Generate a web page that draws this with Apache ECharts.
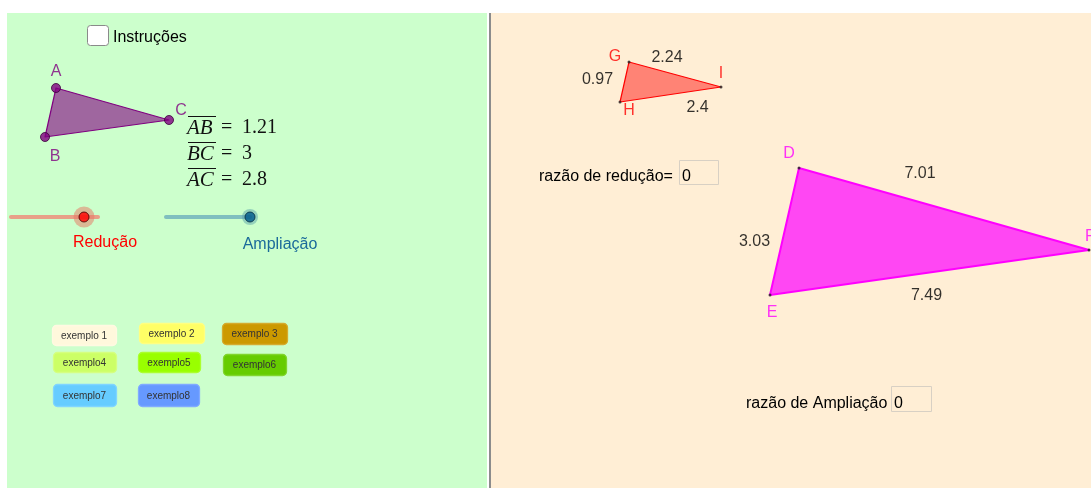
<!DOCTYPE html>
<html>
<head>
<meta charset="utf-8">
<script src="https://cdn.jsdelivr.net/npm/echarts@6/dist/echarts.min.js"></script>
<style>
  html, body { margin: 0; padding: 0; background: #fff; }
  #chart { width: 1091px; height: 488px; }
</style>
</head>
<body>
<div id="chart"></div>
<script>
// triangle vertices, screen coords of the geogebra view
const triABC = [[56, 88], [45, 137], [169, 120]];
const namesABC = ["A", "B", "C"];
const triGHI = [[629, 62], [620, 102], [721, 87]];
const namesGHI = ["G", "H", "I"];
const triDEF = [[799, 168], [770, 295], [1089, 250]];
const namesDEF = ["D", "E", "F"];

// side lengths (edge order: first-second, second-third, third-first)
const sidesGHI = ["0.97", "2.4", "2.24"];
const sidesDEF = ["3.03", "7.49", "7.01"];
const segNames = ["AB", "BC", "AC"];
const segValues = ["1.21", "3", "2.8"];

// sliders
const trackRed = [[11, 217], [98, 217]];
const knobRed = [84, 217];
const trackBlue = [[166, 217], [250, 217]];
const knobBlue = [250, 217];

// example buttons
const btnLabels = ["exemplo 1", "exemplo 2", "exemplo 3", "exemplo4", "exemplo5", "exemplo6", "exemplo7", "exemplo8"];
const btnColors = ["#fff8dc", "#ffff66", "#cc9900", "#ccff66", "#99ff00", "#66cc00", "#66ccff", "#6699ff"];

const chart = echarts.init(document.getElementById("chart"));

const SANS = "Liberation Sans, Arial, sans-serif";
const SERIF = "Liberation Serif, Times New Roman, serif";

const triSeries = (pts, fill, stroke, lw) => ({
  type: "custom",
  coordinateSystem: "cartesian2d",
  silent: true,
  data: [0],
  renderItem: (params, api) => ({
    type: "polygon",
    shape: { points: pts.map((p) => api.coord(p)) },
    style: { fill, stroke, lineWidth: lw, lineJoin: "round" },
  }),
  z: 2,
});

const vertexSeries = (pts, names, offsets, opts) => ({
  type: "scatter",
  silent: true,
  symbolSize: opts.size,
  itemStyle: { color: opts.color, borderColor: opts.border, borderWidth: opts.bw },
  label: {
    show: true,
    formatter: "{b}",
    color: opts.labelColor,
    fontFamily: SANS,
    fontSize: 16,
    position: "inside",
  },
  data: pts.map((p, i) => ({
    value: p,
    name: names[i],
    label: { offset: offsets[i], align: opts.align ? opts.align[i] : "center" },
  })),
  z: 4,
});

const sideSeries = (pts, labels, offsets) => ({
  type: "scatter",
  silent: true,
  symbolSize: 0,
  label: {
    show: true,
    formatter: "{b}",
    color: "#000",
    fontFamily: SANS,
    fontSize: 16,
    position: "inside",
  },
  data: pts.map((p, i) => {
    const q = pts[(i + 1) % pts.length];
    return {
      value: [(p[0] + q[0]) / 2, (p[1] + q[1]) / 2],
      name: labels[i],
      label: { offset: offsets[i] },
    };
  }),
  z: 4,
});

// layout of the example buttons [x, y, w, h]
const btnBoxes = [
  [52, 325, 64, 20], [139, 323, 65, 20], [222, 323, 65, 21],
  [53, 352, 63, 20], [138, 352, 62, 20], [223, 354, 63, 21],
  [53, 384, 63, 22], [138, 384, 61, 22],
];

const graphics = [
  // panels
  { type: "rect", shape: { x: 7, y: 13, width: 480, height: 475 }, style: { fill: "#ccffcc" }, z: -10 },
  { type: "rect", shape: { x: 491, y: 13, width: 600, height: 475 }, style: { fill: "#ffeed5" }, z: -10 },
  { type: "rect", shape: { x: 489, y: 13, width: 2, height: 475 }, style: { fill: "#8c8c8c" }, z: -9 },
  // checkbox
  { type: "rect", shape: { x: 87.5, y: 25.5, width: 21, height: 20, r: 3 }, style: { fill: "#fff", stroke: "#8a8a8a", lineWidth: 1 } },
  { type: "text", x: 113, y: 38, style: { text: "Instruções", fontFamily: SANS, fontSize: 16, fill: "#000", verticalAlign: "middle" } },
  // slider captions
  { type: "text", x: 105, y: 243, style: { text: "Redução", fontFamily: SANS, fontSize: 16, fill: "#ff0000", align: "center", verticalAlign: "middle" } },
  { type: "text", x: 280, y: 245, style: { text: "Ampliação", fontFamily: SANS, fontSize: 16, fill: "#1a6a9a", align: "center", verticalAlign: "middle" } },
  // input boxes
  { type: "text", x: 539, y: 177, style: { text: "razão de redução=", fontFamily: SANS, fontSize: 16, fill: "#000", verticalAlign: "middle" } },
  { type: "rect", shape: { x: 679.5, y: 160.5, width: 39, height: 24 }, style: { fill: "#ffeed5", stroke: "#d8d0c4", lineWidth: 1 } },
  { type: "text", x: 682, y: 177, style: { text: "0", fontFamily: SANS, fontSize: 16, fill: "#000", verticalAlign: "middle" } },
  { type: "text", x: 746, y: 404, style: { text: "razão de Ampliação", fontFamily: SANS, fontSize: 16, fill: "#000", verticalAlign: "middle" } },
  { type: "rect", shape: { x: 891.5, y: 386.5, width: 40, height: 25 }, style: { fill: "#ffeed5", stroke: "#d8d0c4", lineWidth: 1 } },
  { type: "text", x: 894, y: 404, style: { text: "0", fontFamily: SANS, fontSize: 16, fill: "#000", verticalAlign: "middle" } },
];

// segment lengths with overlined names
segNames.forEach((n, i) => {
  const y = 128 + i * 26;
  graphics.push({
    type: "text", x: 187, y,
    style: { text: n, fontFamily: SERIF, fontStyle: "italic", fontSize: 21, fill: "#111", verticalAlign: "middle" },
  });
  graphics.push({
    type: "text", x: 221, y,
    style: { text: "=", fontFamily: SERIF, fontSize: 20, fill: "#111", verticalAlign: "middle" },
  });
  graphics.push({
    type: "text", x: 242, y,
    style: { text: segValues[i], fontFamily: SERIF, fontSize: 20, fill: "#111", verticalAlign: "middle" },
  });
  graphics.push({
    type: "line", shape: { x1: 188, y1: y - 11.5, x2: 216, y2: y - 11.5 },
    style: { stroke: "#111", lineWidth: 1 },
  });
});

btnLabels.forEach((t, i) => {
  const [x, y, w, h] = btnBoxes[i];
  graphics.push({
    type: "rect", shape: { x: x + 0.5, y: y + 0.5, width: w, height: h, r: 4 },
    style: { fill: btnColors[i], stroke: echarts.color.lift(btnColors[i], 0.18), lineWidth: 1.3 },
  });
  graphics.push({
    type: "text", x: x + w / 2, y: y + h / 2 + 1,
    style: { text: t, fontFamily: SANS, fontSize: 10, fill: "#333", align: "center", verticalAlign: "middle" },
  });
});

chart.setOption({
  animation: false,
  backgroundColor: "#fff",
  grid: { left: 0, right: 0, top: 0, bottom: 0 },
  xAxis: { type: "value", min: 0, max: 1091, show: false },
  yAxis: { type: "value", min: 0, max: 488, inverse: true, show: false },
  graphic: graphics,
  series: [
    triSeries(triABC, "rgba(128,0,128,0.6)", "#800080", 1.2),
    triSeries(triGHI, "rgba(255,0,0,0.45)", "#ff0000", 1.2),
    triSeries(triDEF, "rgba(255,0,255,0.7)", "#ff00ff", 2),
    vertexSeries(triABC, namesABC, [[0, -16], [10, 20], [12, -9]], {
      size: 9, color: "#800080", border: "#3a003a", bw: 1, labelColor: "#800080",
    }),
    vertexSeries(triGHI, namesGHI, [[-14, -5], [9, 9], [0, -13]], {
      size: 3, color: "#222", border: "#222", bw: 0, labelColor: "#ff0000",
    }),
    vertexSeries(triDEF, namesDEF, [[-10, -14], [2, 18], [-4, -13]], {
      size: 3, color: "#222", border: "#222", bw: 0, labelColor: "#ff00ff",
      align: ["center", "center", "left"],
    }),
    sideSeries(triGHI, sidesGHI, [[-27, -2], [27, 13], [-8, -17]]),
    sideSeries(triDEF, sidesDEF, [[-30, 10], [-3, 23], [-24, -35]]),
    // sliders
    {
      type: "line", silent: true, symbol: "none", data: trackRed,
      lineStyle: { color: "#e8a088", width: 4, cap: "round" }, z: 3,
    },
    {
      type: "line", silent: true, symbol: "none", data: trackBlue,
      lineStyle: { color: "#7fbfbf", width: 4, cap: "round" }, z: 3,
    },
    {
      type: "scatter", silent: true, symbolSize: 21, data: [knobRed],
      itemStyle: { color: "rgba(230,120,100,0.65)" }, z: 4,
    },
    {
      type: "scatter", silent: true, symbolSize: 16, data: [knobBlue],
      itemStyle: { color: "rgba(90,160,170,0.6)" }, z: 4,
    },
    {
      type: "scatter", silent: true, symbolSize: 10, data: [knobRed],
      itemStyle: { color: "#ff0000", borderColor: "#400000", borderWidth: 1 }, z: 5,
    },
    {
      type: "scatter", silent: true, symbolSize: 10, data: [knobBlue],
      itemStyle: { color: "#005a8c", borderColor: "#002a40", borderWidth: 1 }, z: 5,
    },
  ],
});
</script>
</body>
</html>
